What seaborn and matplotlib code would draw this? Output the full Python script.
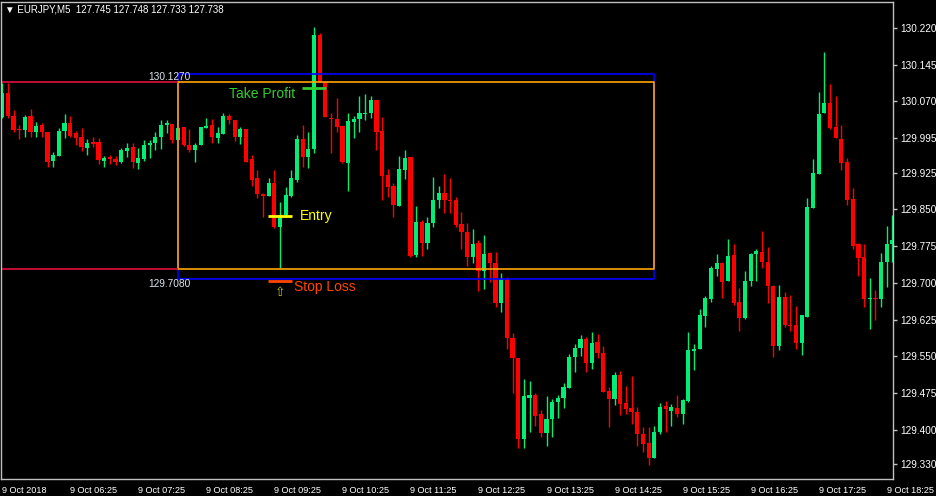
import numpy as np
import pandas as pd
import seaborn as sns
import matplotlib.pyplot as plt

# EURJPY M5, 9 Oct 2018 05:25 .. 18:25 (one bar every 5 minutes)
opens = [
    130.039, 130.087, 130.041, 130.014, 130.012, 130.041, 130.008, 130.022, 130.008, 129.949,
    129.959, 130.010, 130.026, 130.006, 129.998, 129.975, 129.987, 129.987, 129.949, 129.957,
    129.953, 129.947, 129.969, 129.977, 129.945, 129.953, 129.981, 129.985, 129.998, 130.022,
    130.024, 129.991, 130.018, 129.981, 129.971, 129.981, 130.016, 130.022, 129.995, 130.004,
    130.041, 130.032, 129.998, 130.014, 129.953, 129.914, 129.881, 129.877, 129.904, 129.814,
    129.838, 129.877, 129.910, 129.993, 129.957, 129.973, 130.206, 130.110, 130.036, 130.034,
    130.020, 129.945, 130.028, 130.034, 130.045, 130.047, 130.073, 130.010, 129.920, 129.898,
    129.857, 129.930, 129.957, 129.757, 129.824, 129.781, 129.822, 129.869, 129.883, 129.869,
    129.869, 129.820, 129.804, 129.753, 129.781, 129.724, 129.761, 129.740, 129.659, 129.708,
    129.587, 129.546, 129.381, 129.465, 129.471, 129.432, 129.393, 129.422, 129.457, 129.465,
    129.485, 129.548, 129.567, 129.585, 129.536, 129.579, 129.557, 129.479, 129.463, 129.512,
    129.455, 129.444, 129.436, 129.391, 129.373, 129.342, 129.395, 129.448, 129.438, 129.444,
    129.432, 129.459, 129.561, 129.565, 129.632, 129.667, 129.728, 129.740, 129.704, 129.757,
    129.661, 129.628, 129.704, 129.759, 129.763, 129.742, 129.693, 129.571, 129.671, 129.614,
    129.614, 129.577, 129.630, 129.853, 129.922, 130.047, 130.067, 130.018, 129.993, 129.947,
    129.871, 129.779, 129.753, 129.667, 129.669, 129.667, 129.742, 129.779,
]
highs = [
    130.108, 130.108, 130.053, 130.022, 130.043, 130.055, 130.028, 130.026, 130.008, 129.967,
    130.016, 130.045, 130.041, 130.010, 130.016, 129.993, 129.998, 129.995, 129.959, 129.961,
    129.959, 129.975, 129.985, 129.985, 129.975, 129.991, 129.991, 130.008, 130.032, 130.032,
    130.024, 130.018, 130.018, 130.014, 129.985, 130.018, 130.036, 130.034, 130.018, 130.047,
    130.045, 130.032, 130.018, 130.014, 129.961, 129.930, 129.883, 129.914, 129.930, 129.865,
    129.895, 129.930, 130.002, 130.022, 130.008, 130.222, 130.210, 130.112, 130.047, 130.077,
    130.020, 130.047, 130.041, 130.081, 130.085, 130.081, 130.073, 130.038, 129.932, 129.904,
    129.959, 129.971, 129.957, 129.857, 129.828, 129.834, 129.916, 129.898, 129.922, 129.914,
    129.875, 129.845, 129.822, 129.810, 129.787, 129.798, 129.763, 129.763, 129.720, 129.712,
    129.597, 129.546, 129.504, 129.500, 129.475, 129.440, 129.469, 129.463, 129.471, 129.496,
    129.555, 129.575, 129.593, 129.589, 129.600, 129.595, 129.571, 129.487, 129.518, 129.520,
    129.489, 129.510, 129.446, 129.406, 129.406, 129.408, 129.455, 129.459, 129.453, 129.471,
    129.463, 129.600, 129.575, 129.646, 129.673, 129.734, 129.759, 129.742, 129.789, 129.779,
    129.689, 129.724, 129.761, 129.769, 129.806, 129.773, 129.695, 129.695, 129.681, 129.675,
    129.653, 129.634, 129.873, 129.953, 130.089, 130.171, 130.106, 130.081, 130.022, 129.955,
    129.893, 129.781, 129.779, 129.710, 129.685, 129.761, 129.816, 129.838,
]
lows = [
    130.037, 130.037, 130.008, 129.993, 129.997, 129.998, 129.998, 129.998, 129.936, 129.937,
    129.959, 129.995, 129.998, 129.981, 129.969, 129.961, 129.977, 129.943, 129.937, 129.943,
    129.941, 129.945, 129.957, 129.935, 129.932, 129.949, 129.955, 129.971, 129.973, 130.006,
    129.985, 129.991, 129.979, 129.967, 129.947, 129.981, 130.016, 129.985, 129.985, 130.004,
    130.024, 129.989, 129.983, 129.947, 129.898, 129.873, 129.834, 129.877, 129.812, 129.730,
    129.834, 129.875, 129.906, 129.937, 129.935, 129.965, 130.110, 130.038, 129.965, 130.008,
    129.945, 129.887, 129.995, 130.008, 130.032, 130.036, 129.971, 129.869, 129.875, 129.834,
    129.857, 129.912, 129.753, 129.753, 129.755, 129.769, 129.814, 129.853, 129.843, 129.843,
    129.814, 129.769, 129.734, 129.740, 129.683, 129.687, 129.702, 129.651, 129.640, 129.565,
    129.475, 129.363, 129.363, 129.395, 129.408, 129.385, 129.367, 129.385, 129.424, 129.444,
    129.485, 129.518, 129.550, 129.518, 129.524, 129.546, 129.477, 129.406, 129.451, 129.430,
    129.432, 129.412, 129.367, 129.355, 129.328, 129.342, 129.391, 129.395, 129.408, 129.426,
    129.412, 129.457, 129.522, 129.565, 129.610, 129.661, 129.714, 129.669, 129.704, 129.655,
    129.601, 129.626, 129.693, 129.704, 129.730, 129.659, 129.548, 129.563, 129.610, 129.601,
    129.565, 129.553, 129.630, 129.853, 129.922, 130.047, 130.014, 129.995, 129.930, 129.859,
    129.769, 129.714, 129.650, 129.606, 129.624, 129.650, 129.691, 129.742,
]
closes = [
    130.087, 130.041, 130.012, 130.012, 130.039, 130.008, 130.020, 130.008, 129.947, 129.961,
    130.010, 130.026, 130.000, 129.995, 129.977, 129.985, 129.983, 129.951, 129.955, 129.953,
    129.947, 129.971, 129.975, 129.947, 129.955, 129.981, 129.985, 129.998, 130.022, 130.026,
    129.991, 130.016, 129.981, 129.971, 129.981, 130.018, 130.020, 129.998, 130.006, 130.041,
    130.032, 129.998, 130.014, 129.947, 129.910, 129.881, 129.877, 129.904, 129.814, 129.838,
    129.879, 129.914, 129.993, 129.957, 129.973, 130.206, 130.110, 130.038, 130.034, 130.018,
    129.947, 130.030, 130.034, 130.047, 130.047, 130.073, 130.008, 129.918, 129.895, 129.859,
    129.932, 129.955, 129.755, 129.824, 129.781, 129.822, 129.869, 129.883, 129.869, 129.867,
    129.818, 129.804, 129.753, 129.779, 129.724, 129.759, 129.740, 129.659, 129.708, 129.587,
    129.546, 129.381, 129.469, 129.471, 129.428, 129.393, 129.422, 129.457, 129.465, 129.487,
    129.548, 129.567, 129.585, 129.536, 129.577, 129.557, 129.477, 129.463, 129.512, 129.453,
    129.442, 129.436, 129.391, 129.371, 129.342, 129.395, 129.446, 129.442, 129.446, 129.432,
    129.461, 129.563, 129.565, 129.634, 129.669, 129.730, 129.740, 129.702, 129.755, 129.659,
    129.628, 129.704, 129.759, 129.765, 129.742, 129.693, 129.571, 129.671, 129.614, 129.612,
    129.577, 129.634, 129.855, 129.924, 130.045, 130.067, 130.016, 129.995, 129.945, 129.869,
    129.775, 129.751, 129.667, 129.669, 129.667, 129.742, 129.779, 129.787,
]

time_labels = ["9 Oct 2018", "9 Oct 06:25", "9 Oct 07:25", "9 Oct 08:25", "9 Oct 09:25",
               "9 Oct 10:25", "9 Oct 11:25", "9 Oct 12:25", "9 Oct 13:25", "9 Oct 14:25",
               "9 Oct 15:25", "9 Oct 16:25", "9 Oct 17:25", "9 Oct 18:25"]
price_labels = ["130.220", "130.145", "130.070", "129.995", "129.925", "129.850", "129.775",
                "129.700", "129.625", "129.550", "129.475", "129.400", "129.330"]

# trade levels
tp_level, sl_level = 130.127, 129.708
box_top, box_bottom = 130.110, 129.728
box_start, box_end = 31, 115
tp_mark, entry_mark, sl_mark = 130.097, 129.837, 129.704

df = pd.DataFrame({"open": opens, "high": highs, "low": lows, "close": closes})
df["bar"] = np.arange(len(df))
df["bull"] = df["close"] >= df["open"]

sns.set_style("dark", rc={"axes.facecolor": "black", "figure.facecolor": "black",
                          "axes.edgecolor": "#c0c0c0", "axes.grid": False})
plt.rcParams["font.family"] = ["Liberation Sans", "DejaVu Sans"]

green, red = "#00ee76", "#ff0000"
colors = np.where(df["bull"], green, red)

fig = plt.figure(figsize=(9.36, 4.96), dpi=100)
ax = fig.add_axes([1 / 936, 17 / 496, 892 / 936, 477 / 496])

ax.vlines(df["bar"], df["low"], df["high"], colors=colors, linewidth=1)
body_low = df[["open", "close"]].min(axis=1)
body_h = (df["close"] - df["open"]).abs().clip(lower=0.0018)
ax.bar(df["bar"], body_h, bottom=body_low, width=0.74, color=colors, linewidth=0)

xmin, xmax = -0.21, 157.1
ax.set_xlim(xmin, xmax)
ax.set_ylim(129.2995, 130.2730)

# rectangles
ax.plot([box_start, box_end, box_end, box_start, box_start],
        [tp_level, tp_level, sl_level, sl_level, tp_level], color="#0000ff", lw=1.2)
ax.plot([box_start, box_end, box_end, box_start, box_start],
        [box_top, box_top, box_bottom, box_bottom, box_top], color="#ffa500", lw=1.2)
ax.hlines([box_top, box_bottom], xmin, box_start, colors="#e0103c", lw=1.2)
ax.text(25.7, 130.120, "130.1270", color="#dde3ee", fontsize=7.3, va="center", ha="left")
ax.text(25.7, 129.6975, "129.7080", color="#dde3ee", fontsize=7.3, va="center", ha="left")

# markers
ax.hlines(tp_mark, 52.9, 57.1, colors="#32cd32", lw=2)
ax.text(40.0, 130.085, "Take Profit", color="#32cd32", fontsize=10, va="center", ha="left")
ax.hlines(entry_mark, 46.9, 51.1, colors="#ffff00", lw=2)
ax.text(52.5, entry_mark, "Entry", color="#ffff00", fontsize=10, va="center", ha="left")
ax.hlines(sl_mark, 46.9, 51.1, colors="#ff4500", lw=2)
ax.text(51.5, 129.691, "Stop Loss", color="#ff4500", fontsize=10, va="center", ha="left")
ax.text(49, 129.681, "⇧", color="#c8c800", fontsize=9, va="center", ha="center",
        family=["DejaVu Sans"])

# axes
ax.yaxis.tick_right()
ax.set_yticks([float(v) for v in price_labels])
ax.set_yticklabels(price_labels)
ax.set_xticks(np.arange(0, 157, 12))
ax.set_xticklabels(time_labels, ha="left")
ax.tick_params(axis="both", colors="#c0c0c0", labelcolor="white", labelsize=7.2,
               length=3, width=1, pad=2, direction="out")
ax.tick_params(axis="x", labelsize=6.6)
for s in ax.spines.values():
    s.set_color("#c0c0c0")
    s.set_linewidth(1)

fig.text(5 / 936, 1 - 10 / 496, "▼ EURJPY,M5  127.745 127.748 127.733 127.738",
         color="white", fontsize=7, va="center", ha="left")

fig.savefig("out.png", dpi=100, facecolor="black")
